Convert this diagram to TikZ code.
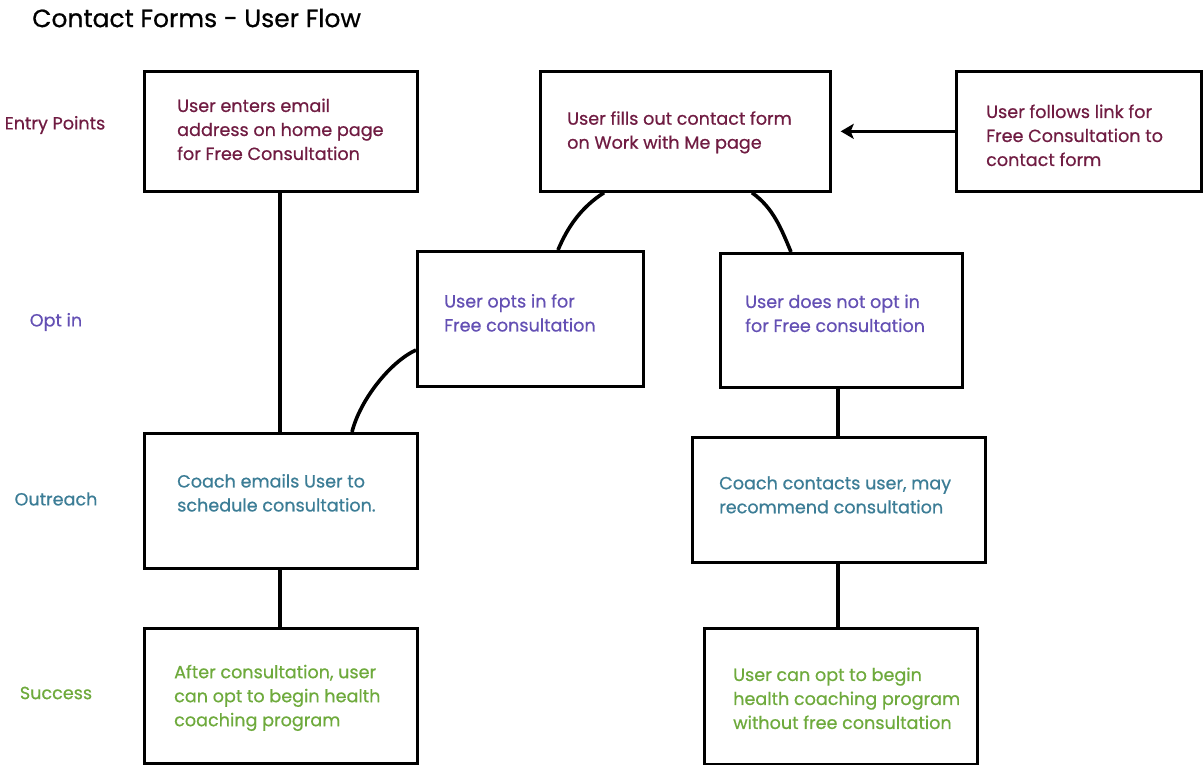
\documentclass[tikz,border=0pt]{standalone}
\usepackage{fontspec}
\setmainfont{Poppins}[FakeBold=0.6]
\usetikzlibrary{arrows.meta}
\definecolor{cEntry}{RGB}{112,28,66}
\definecolor{cOpt}{RGB}{100,80,180}
\definecolor{cOut}{RGB}{60,125,150}
\definecolor{cSucc}{RGB}{110,170,60}
\begin{document}
\begin{tikzpicture}[x=1pt,y=-1pt,
  box/.style={draw=black,line width=2.7pt,fill=white,rectangle,anchor=north west,inner sep=0pt},
  txt/.style={anchor=west,align=left,inner sep=0pt,font=\fontsize{17.6}{24}\selectfont},
  lbl/.style={font=\fontsize{17.6}{24}\selectfont},
  conn/.style={line width=3.6pt,black}]
\useasboundingbox (0,0) rectangle (1204,765);
\node[font=\fontsize{25}{28}\selectfont,anchor=west,inner sep=0pt] (title) at (32,18) {Contact Forms - User Flow};
% side labels
\node[lbl,text=cEntry] (l1) at (55,125) {Entry Points};
\node[lbl,text=cOpt] (l2) at (56,322) {Opt in};
\node[lbl,text=cOut] (l3) at (56,499) {Outreach};
\node[lbl,text=cSucc] (l4) at (56,693) {Success};
% boxes
\node[box,minimum width=273pt,minimum height=120pt] (A) at (143,70) {};
\node[box,minimum width=290pt,minimum height=120pt] (B) at (539,70) {};
\node[box,minimum width=245pt,minimum height=120pt] (C) at (955,70) {};
\node[box,minimum width=226pt,minimum height=135pt] (D) at (416,250) {};
\node[box,minimum width=242pt,minimum height=134pt] (E) at (719,252) {};
\node[box,minimum width=273pt,minimum height=135pt] (F) at (143,432) {};
\node[box,minimum width=293pt,minimum height=125pt] (G) at (691,436) {};
\node[box,minimum width=273pt,minimum height=135pt] (H) at (143,627) {};
\node[box,minimum width=273pt,minimum height=136pt] (I) at (703,627) {};
% box texts
\node[txt,text=cEntry] (tA) at ([xshift=34pt,yshift=2pt]A.west) {User enters email\\address on home page\\for Free Consultation};
\node[txt,text=cEntry] (tB) at ([xshift=28pt,yshift=-1pt]B.west) {User fills out contact form\\on Work with Me page};
\node[txt,text=cEntry] (tC) at ([xshift=31pt,yshift=-4pt]C.west) {User follows link for\\Free Consultation to\\contact form};
\node[txt,text=cOpt] (tD) at ([xshift=28pt,yshift=6pt]D.west) {User opts in for\\Free consultation};
\node[txt,text=cOpt] (tE) at ([xshift=26pt,yshift=7pt]E.west) {User does not opt in\\for Free consultation};
\node[txt,text=cOut] (tF) at ([xshift=34pt,yshift=8pt]F.west) {Coach emails User to\\schedule consultation.};
\node[txt,text=cOut] (tG) at ([xshift=28pt,yshift=5pt]G.west) {Coach contacts user, may\\recommend consultation};
\node[txt,text=cSucc] (tH) at ([xshift=31pt,yshift=-2pt]H.west) {After consultation, user\\can opt to begin health\\coaching program};
\node[txt,text=cSucc] (tI) at ([xshift=30pt,yshift=-2pt]I.west) {User can opt to begin\\health coaching program\\without free consultation};
% connectors
\draw[conn] ([xshift=137pt]A.south west) -- ([xshift=137pt]F.north west);
\draw[conn] ([xshift=137pt]F.south west) -- ([xshift=137pt]H.north west);
\draw[conn] ([xshift=119pt]E.south west) -- ([xshift=147pt]G.north west);
\draw[conn] ([xshift=147pt]G.south west) -- ([xshift=135pt]I.north west);
\draw[conn,-{Stealth[length=13pt,width=15pt,inset=3pt]},shorten >=9pt] (C.west) -- (B.east);
\draw[conn] ([xshift=65pt]B.south west) .. controls +(-22,14) and +(10,-24) .. ([xshift=142pt]D.north west);
\draw[conn] ([xshift=213pt]B.south west) .. controls +(21,15) and +(-10,-24) .. ([xshift=72pt]E.north west);
\draw[conn] ([yshift=-100pt]D.north west) .. controls +(-26,12) and +(8,-32) .. ([xshift=209pt]F.north west);
\end{tikzpicture}
\end{document}
